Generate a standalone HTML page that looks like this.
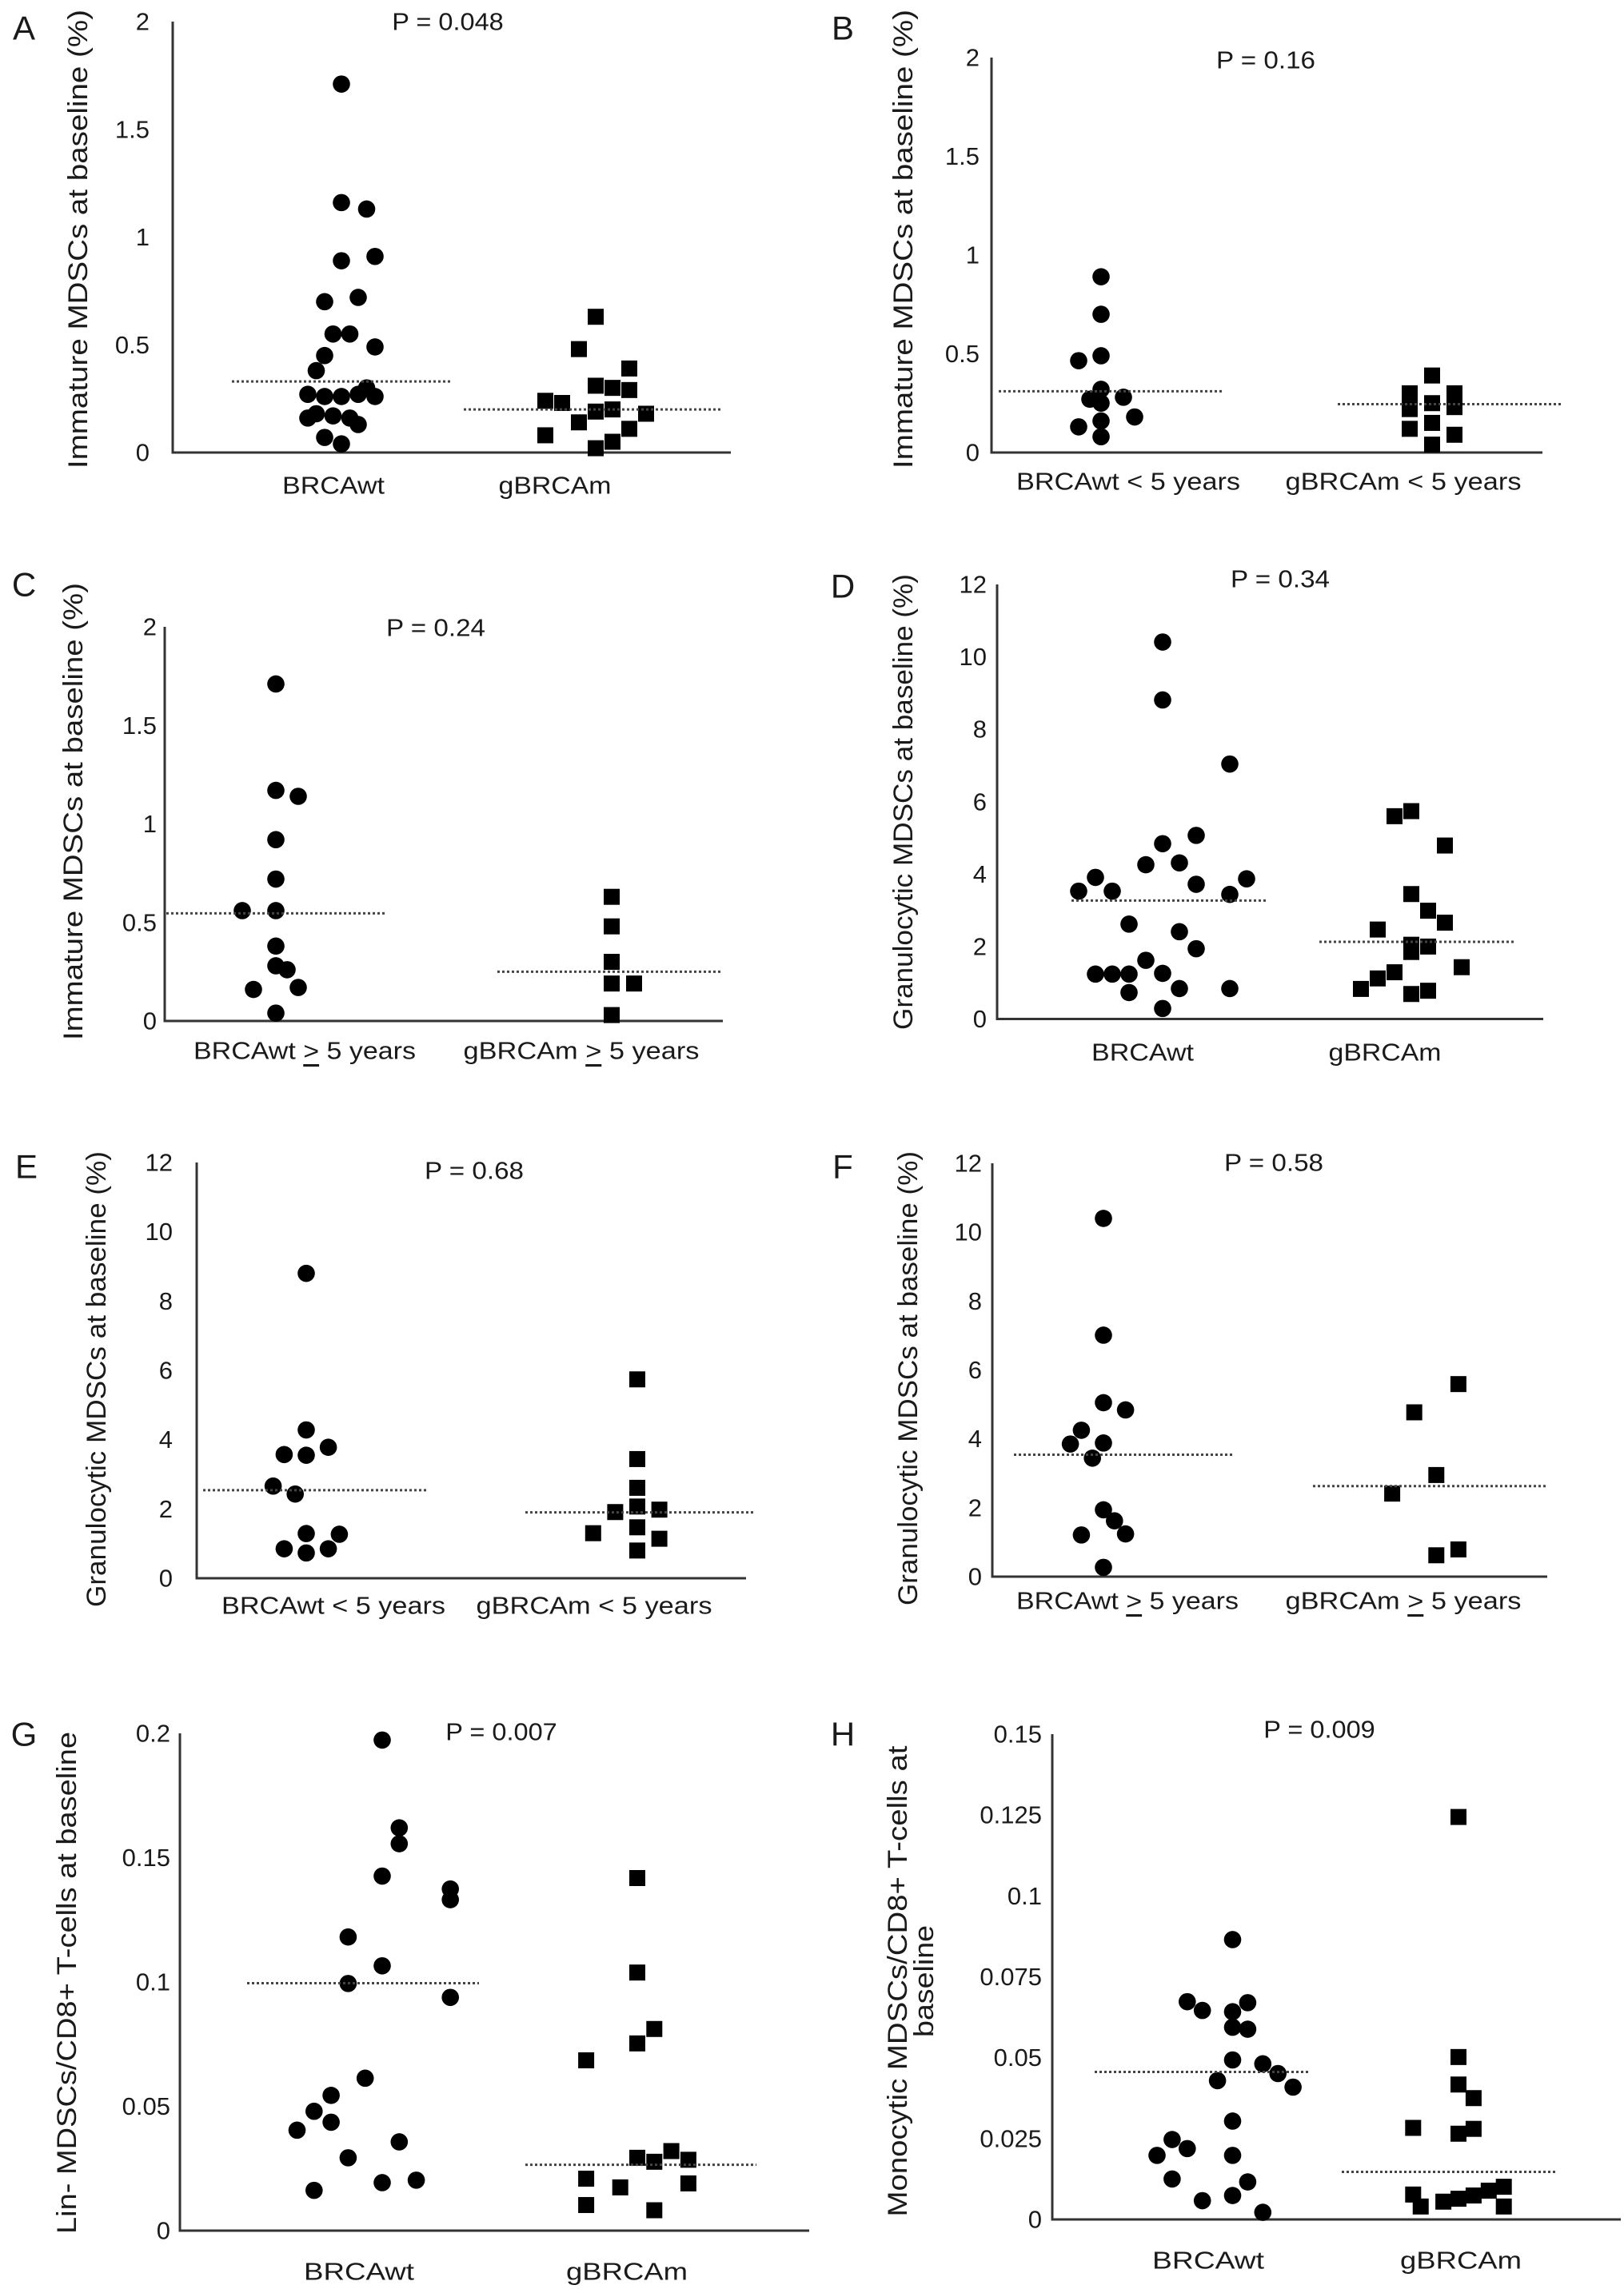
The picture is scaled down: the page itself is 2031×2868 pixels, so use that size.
<!DOCTYPE html>
<html><head><meta charset="utf-8"><title>MDSC baseline scatter plots</title>
<style>
html,body{margin:0;padding:0;background:#fff;}
svg{display:block;}
text{font-family:"Liberation Sans",Arial,sans-serif;fill:#1a1a1a;}
</style></head>
<body>
<svg id="fig" width="2031" height="2868" viewBox="0 0 2031 2868" xmlns="http://www.w3.org/2000/svg"></svg>
<script>
// ---------- DATA ----------
const ticksImm = [0, 0.5, 1, 1.5, 2];
const tickLabelsImm = ["0", "0.5", "1", "1.5", "2"];
const ticksGran = [0, 2, 4, 6, 8, 10, 12];
const tickLabelsGran = ["0", "2", "4", "6", "8", "10", "12"];
const ticksLin = [0, 0.05, 0.1, 0.15, 0.2];
const tickLabelsLin = ["0", "0.05", "0.1", "0.15", "0.2"];
const ticksMono = [0, 0.025, 0.05, 0.075, 0.1, 0.125, 0.15];
const tickLabelsMono = ["0", "0.025", "0.05", "0.075", "0.1", "0.125", "0.15"];

// Panel A
const aWtVals = [1.71,1.16,1.13,0.89,0.91,0.70,0.72,0.55,0.55,0.49,0.45,0.38,0.30,0.27,0.26,0.26,0.27,0.26,0.18,0.16,0.17,0.16,0.13,0.07,0.04];
const aWtLanes = [0,0,3,0,4,-2,2,-1,1,4,-2,-3,3,-4,-2,0,2,4,-3,-4,-1,1,2,-2,0];
const aGmVals = [0.63,0.48,0.39,0.31,0.30,0.29,0.24,0.23,0.19,0.20,0.18,0.14,0.11,0.08,0.05,0.02];
const aGmLanes = [0,-2,4,0,2,4,-6,-4,0,2,6,-2,4,-6,2,0];
const aMedians = [0.33, 0.20];
// Panel B
const bWtVals = [0.89,0.70,0.465,0.49,0.32,0.28,0.27,0.25,0.18,0.13,0.16,0.08];
const bWtLanes = [0,0,-2,0,0,2,-1,0,3,-2,0,0];
const bGmVals = [0.30,0.22,0.12,0.39,0.25,0.15,0.04,0.30,0.23,0.09];
const bGmLanes = [-2,-2,-2,0,0,0,0,2,2,2];
const bMedians = [0.31, 0.245];
// Panel C
const cWtVals = [1.71,1.17,1.14,0.92,0.72,0.56,0.56,0.38,0.28,0.26,0.16,0.17,0.04];
const cWtLanes = [0,0,2,0,0,-3,0,0,0,1,-2,2,0];
const cGmVals = [0.63,0.48,0.30,0.19,0.19,0.03];
const cGmLanes = [0,0,0,0,2,0];
const cMedians = [0.546, 0.25];
// Panel D
const dWtVals = [10.41,8.81,7.04,5.07,4.84,4.26,4.31,3.91,3.87,3.53,3.53,3.72,3.44,2.62,2.41,1.94,1.62,1.24,1.24,1.24,1.26,0.73,0.84,0.84,0.29];
const dWtLanes = [0,0,4,2,0,-1,1,-4,5,-5,-3,2,4,-2,1,2,-1,-4,-3,-2,0,-2,1,4,0];
const dGmVals = [5.60,5.74,4.79,3.45,2.99,2.66,2.47,2.05,2.00,1.85,1.43,1.29,1.12,0.83,0.69,0.78];
const dGmLanes = [-1,0,2,0,1,2,-2,0,1,0,3,-1,-2,-3,0,1];
const dMedians = [3.27, 2.13];
// Panel E
const eWtVals = [8.80,4.28,3.78,3.57,3.55,2.66,2.43,1.29,1.27,0.85,0.73,0.85];
const eWtLanes = [0,0,2,-2,0,-3,-1,0,3,-2,0,2];
const eGmVals = [5.74,3.44,2.61,2.07,1.91,1.98,1.47,1.30,1.14,0.80];
const eGmLanes = [0,0,0,0,-2,2,0,-4,2,0];
const eMedians = [2.54, 1.90];
// Panel F
const fWtVals = [10.40,7.01,5.05,4.84,4.25,3.85,3.88,3.44,1.94,1.62,1.21,1.24,0.27];
const fWtLanes = [0,0,0,2,-2,-3,0,-1,0,1,-2,2,0];
const fGmVals = [5.59,4.77,2.95,2.41,0.62,0.79];
const fGmLanes = [3,-1,1,-3,1,3];
const fMedians = [3.54, 2.63];
// Panel G
const gWtVals = [0.1973,0.162,0.1556,0.1426,0.1374,0.1331,0.1181,0.1065,0.0994,0.0938,0.0613,0.0544,0.0480,0.0436,0.0404,0.0357,0.0293,0.0193,0.0203,0.0162];
const gWtLanes = [0,1,1,0,4,4,-2,0,-2,4,-1,-3,-4,-3,-5,1,-2,0,2,-4];
const gGmVals = [0.1418,0.1038,0.0811,0.0753,0.0685,0.0293,0.0277,0.0320,0.0285,0.0209,0.0174,0.0190,0.0103,0.0082];
const gGmLanes = [0,0,1,0,-3,0,1,2,3,-3,-1,3,-3,1];
const gMedians = [0.0995, 0.0265];
// Panel H
const hWtVals = [0.0865,0.0673,0.0646,0.0670,0.0642,0.0594,0.0588,0.0493,0.0481,0.0451,0.0429,0.0409,0.0304,0.0247,0.0219,0.0198,0.0198,0.0125,0.0116,0.0058,0.0074,0.0022];
const hWtLanes = [0,-3,-2,1,0,0,1,0,2,3,-1,4,0,-4,-3,-5,0,-4,1,-2,0,2];
const hGmVals = [0.1244,0.0502,0.0417,0.0375,0.0283,0.0265,0.0280,0.0077,0.0040,0.0055,0.0064,0.0074,0.0089,0.0101,0.0040];
const hGmLanes = [0,0,0,1,-3,0,1,-3,-2.5,-1,0,1,2,3,3];
const hMedians = [0.0456, 0.0147];

// ---------- LAYOUT ----------
const NS = "http://www.w3.org/2000/svg";
const svg = document.getElementById("fig");
function el(tag, attrs, parent) {
  const e = document.createElementNS(NS, tag);
  for (const k in attrs) e.setAttribute(k, attrs[k]);
  (parent || svg).appendChild(e);
  return e;
}

const panels = [
 {id:"a", letter:"A", lx:30, ly:35, ax:216, y0:566, yTop:27, xEnd:914, max:2, ticks:ticksImm, tl:tickLabelsImm, tickR:187,
  wt:aWtVals, wtL:aWtLanes, gm:aGmVals, gmL:aGmLanes, med:aMedians, cWt:427, cGm:745, lane:10.5,
  mWt:[290,563], mGm:[580,904], p:"P = 0.048", px:560, py:27, labY:607, labWt:["BRCAwt",417,128], labGm:["gBRCAm",694,141],
  title:["Immature MDSCs at baseline (%)"], tx:98, ty:299, tlen:[574]},
 {id:"b", letter:"B", lx:1054, ly:35, ax:1240, y0:566, yTop:72, xEnd:1929, max:2, ticks:ticksImm, tl:tickLabelsImm, tickR:1225,
  wt:bWtVals, wtL:bWtLanes, gm:bGmVals, gmL:bGmLanes, med:bMedians, cWt:1377, cGm:1791, lane:14,
  mWt:[1249,1530], mGm:[1673,1955], p:"P = 0.16", px:1583, py:75, labY:602, labWt:["BRCAwt < 5 years",1411,280], labGm:["gBRCAm < 5 years",1755,295],
  title:["Immature MDSCs at baseline (%)"], tx:1130, ty:299, tlen:[574]},
 {id:"c", letter:"C", lx:30, ly:731, ax:206, y0:1277, yTop:784, xEnd:904, max:2, ticks:ticksImm, tl:tickLabelsImm, tickR:196,
  wt:cWtVals, wtL:cWtLanes, gm:cGmVals, gmL:cGmLanes, med:cMedians, cWt:345, cGm:765, lane:14,
  mWt:[208,483], mGm:[622,904], p:"P = 0.24", px:545, py:785, labY:1314, labWt:["BRCAwt ≥ 5 years",381,278], labGm:["gBRCAm ≥ 5 years",727,295],
  title:["Immature MDSCs at baseline (%)"], tx:92, ty:1015, tlen:[572]},
 {id:"d", letter:"D", lx:1054, ly:733, ax:1247, y0:1274.5, yTop:731, xEnd:1930, max:12, ticks:ticksGran, tl:tickLabelsGran, tickR:1234,
  wt:dWtVals, wtL:dWtLanes, gm:dGmVals, gmL:dGmLanes, med:dMedians, cWt:1454, cGm:1765, lane:21,
  mWt:[1340,1583], mGm:[1650,1893], p:"P = 0.34", px:1601, py:724, labY:1316, labWt:["BRCAwt",1429,128], labGm:["gBRCAm",1732,141],
  title:["Granulocytic MDSCs at baseline (%)"], tx:1130, ty:1003, tlen:[570]},
 {id:"e", letter:"E", lx:33, ly:1459, ax:246, y0:1974, yTop:1454, xEnd:933, max:12, ticks:ticksGran, tl:tickLabelsGran, tickR:216,
  wt:eWtVals, wtL:eWtLanes, gm:eGmVals, gmL:eGmLanes, med:eMedians, cWt:383, cGm:797, lane:13.8,
  mWt:[254,534], mGm:[657,945], p:"P = 0.68", px:593, py:1464, labY:2008, labWt:["BRCAwt < 5 years",417,280], labGm:["gBRCAm < 5 years",743,295],
  title:["Granulocytic MDSCs at baseline (%)"], tx:121, ty:1725, tlen:[570]},
 {id:"f", letter:"F", lx:1054, ly:1459, ax:1241, y0:1972, yTop:1455, xEnd:1935, max:12, ticks:ticksGran, tl:tickLabelsGran, tickR:1228,
  wt:fWtVals, wtL:fWtLanes, gm:fGmVals, gmL:fGmLanes, med:fMedians, cWt:1380, cGm:1782.5, lane:13.8,
  mWt:[1268,1541], mGm:[1642,1934], p:"P = 0.58", px:1593, py:1454, labY:2002, labWt:["BRCAwt ≥ 5 years",1410,278], labGm:["gBRCAm ≥ 5 years",1755,295],
  title:["Granulocytic MDSCs at baseline (%)"], tx:1136, ty:1724, tlen:[568]},
 {id:"g", letter:"G", lx:30, ly:2169, ax:225, y0:2790, yTop:2168, xEnd:1012, max:0.2, ticks:ticksLin, tl:tickLabelsLin, tickR:213,
  wt:gWtVals, wtL:gWtLanes, gm:gGmVals, gmL:gGmLanes, med:gMedians, cWt:478, cGm:797, lane:21.3,
  mWt:[309,599], mGm:[657,946], p:"P = 0.007", px:627, py:2166, labY:2841, labWt:["BRCAwt",449,138], labGm:["gBRCAm",784,152],
  title:["Lin- MDSCs/CD8+ T-cells at baseline"], tx:84, ty:2480, tlen:[628]},
 {id:"h", letter:"H", lx:1054, ly:2169, ax:1316, y0:2776, yTop:2169, xEnd:2027, max:0.15, ticks:ticksMono, tl:tickLabelsMono, tickR:1303,
  wt:hWtVals, wtL:hWtLanes, gm:hGmVals, gmL:hGmLanes, med:hMedians, cWt:1541.5, cGm:1824, lane:18.9,
  mWt:[1369,1637], mGm:[1678,1947], p:"P = 0.009", px:1650, py:2163, labY:2827, labWt:["BRCAwt",1511,140], labGm:["gBRCAm",1827,152],
  title:["Monocytic MDSCs/CD8+ T-cells at","baseline"], tx:1123, ty:2478, tlen:[589,140], tx2:1156}
];

function addLabel(g, text, cx, cy, len, name) {
  const t = el("text", {x:cx, y:cy, "text-anchor":"middle", "dominant-baseline":"central", "font-size":31, textLength:len, lengthAdjust:"spacingAndGlyphs", fill:"#1a1a1a"}, g);
  
  
  if (text.indexOf("≥") >= 0) {
    const parts = text.split("≥");
    t.appendChild(document.createTextNode(parts[0]));
    const u = el("tspan", {"text-decoration":"underline"}, t);
    u.textContent = ">";
    t.appendChild(document.createTextNode(parts[1]));
  } else {
    t.textContent = text;
  }
}

panels.forEach(p => {
  const g = el("g", {});
  
  
  const yS = v => p.y0 - v / p.max * (p.y0 - p.yTop);

  const L = el("text", {x:p.lx, y:p.ly, "text-anchor":"middle", "dominant-baseline":"central", "font-size":42, fill:"#000"}, g);
  
  
  L.textContent = p.letter;

  const ya = el("line", {x1:p.ax, y1:p.yTop, x2:p.ax, y2:p.y0, stroke:"#333", "stroke-width":3}, g);
  
  
  const xa = el("line", {x1:p.ax - 1.5, y1:p.y0, x2:p.xEnd, y2:p.y0, stroke:"#333", "stroke-width":3}, g);
  
  

  p.ticks.forEach((t, i) => {
    const tt = el("text", {x:p.tickR, y:yS(t), "text-anchor":"end", "dominant-baseline":"central", "font-size":31, fill:"#222"}, g);
    
    
    tt.textContent = p.tl[i];
  });

  p.title.forEach((line, i) => {
    const x = i === 0 ? p.tx : p.tx2;
    const tt = el("text", {x:x, y:p.ty, "text-anchor":"middle", "dominant-baseline":"central", "font-size":34, fill:"#222",
      transform:"rotate(-90 " + x + " " + p.ty + ")", textLength:p.tlen[i], lengthAdjust:"spacingAndGlyphs"}, g);
    
    
    tt.textContent = line;
  });

  const pv = el("text", {x:p.px, y:p.py, "text-anchor":"middle", "dominant-baseline":"central", "font-size":31, fill:"#111", textLength:p.p.length * 15.5, lengthAdjust:"spacingAndGlyphs"}, g);
  
  
  pv.textContent = p.p;

  addLabel(g, p.labWt[0], p.labWt[1], p.labY, p.labWt[2], 'x-label-brcawt-' + p.id);
  addLabel(g, p.labGm[0], p.labGm[1], p.labY, p.labGm[2], 'x-label-gbrcam-' + p.id);

  p.wt.forEach((v, i) => {
    const c = el("circle", {cx:p.cWt + p.wtL[i] * p.lane, cy:yS(v), r:10.8, fill:"#000"}, g);
    
    
  });
  p.gm.forEach((v, i) => {
    const s = 20;
    const r = el("rect", {x:p.cGm + p.gmL[i] * p.lane - s/2, y:yS(v) - s/2, width:s, height:s, fill:"#000"}, g);
    
    
  });

  const m1 = el("line", {x1:p.mWt[0], y1:yS(p.med[0]), x2:p.mWt[1], y2:yS(p.med[0]), stroke:"#444", "stroke-width":3, "stroke-dasharray":"3 3"}, g);
  
  
  const m2 = el("line", {x1:p.mGm[0], y1:yS(p.med[1]), x2:p.mGm[1], y2:yS(p.med[1]), stroke:"#444", "stroke-width":3, "stroke-dasharray":"3 3"}, g);
  
  
});
</script>
</body></html>
